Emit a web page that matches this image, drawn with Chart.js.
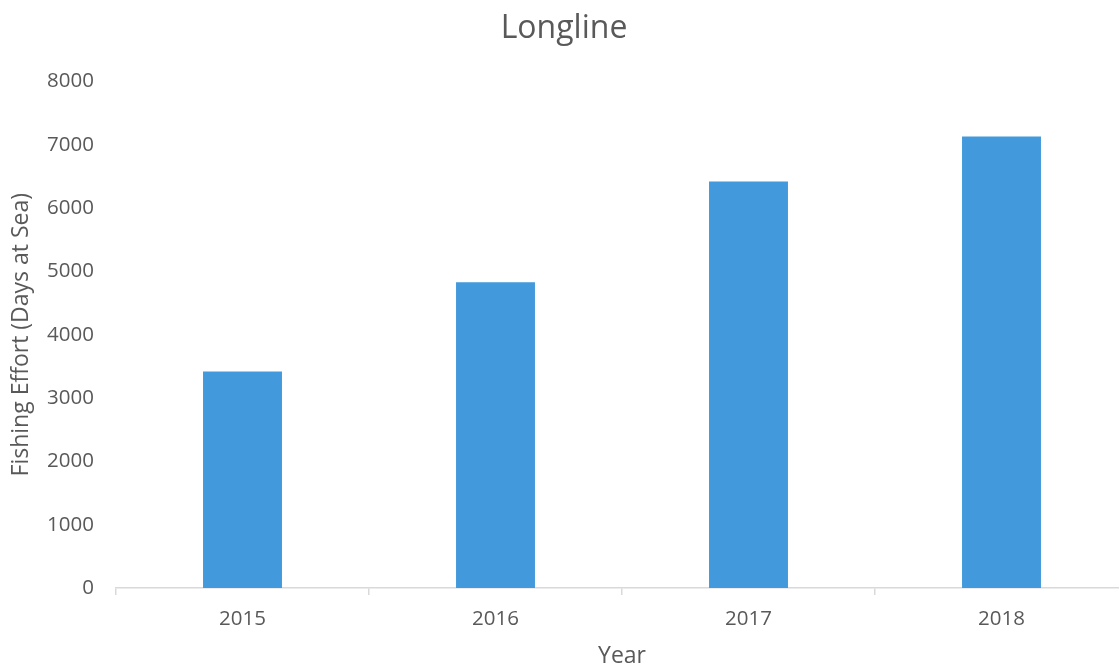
<!DOCTYPE html>
<html>
<head>
<meta charset="utf-8">
<script src="https://cdn.jsdelivr.net/npm/chart.js@4"></script>
<style>
  html, body { margin: 0; padding: 0; background: #fff; overflow: hidden; }
  #wrap { width: 1140px; height: 668px; position: relative; }
</style>
</head>
<body>
<div id="wrap"><canvas id="effortChart"></canvas></div>
<script>
const years = ["2015", "2016", "2017", "2018"];
const daysAtSea = [3420, 4830, 6420, 7130];

const textColor = "#595959";
const axisColor = "#d9d9d9";
const fontFamily = "'Open Sans', 'Liberation Sans', sans-serif";

new Chart(document.getElementById("effortChart"), {
    type: "bar",
    data: {
        labels: years,
        datasets: [{
            label: "Longline",
            data: daysAtSea,
            backgroundColor: "#4299db",
            categoryPercentage: 1,
            barPercentage: 0.312
        }]
    },
    options: {
        responsive: true,
        maintainAspectRatio: false,
        animation: false,
        layout: { padding: { left: 0, right: 12, top: 0, bottom: 0 } },
        plugins: {
            legend: { display: false },
            tooltip: { enabled: false },
            title: {
                display: true,
                text: "Longline",
                color: textColor,
                font: { family: fontFamily, size: 32, weight: "normal" },
                padding: { top: 10, bottom: 33 }
            }
        },
        scales: {
            x: {
                grid: {
                    display: true,
                    drawOnChartArea: false,
                    offset: true,
                    tickLength: 7,
                    color: axisColor,
                    lineWidth: 1.5
                },
                border: { display: true, color: axisColor, width: 1.5 },
                ticks: {
                    color: textColor,
                    font: { family: fontFamily, size: 20.5 },
                    padding: 12
                },
                title: {
                    display: true,
                    text: "Year",
                    color: textColor,
                    font: { family: fontFamily, size: 23, lineHeight: 1 },
                    padding: { top: 6, bottom: 0 }
                },
                afterFit: function (scale) { scale.height = 80; }
            },
            y: {
                min: 0,
                max: 8000,
                grid: { display: false },
                border: { display: false },
                ticks: {
                    stepSize: 1000,
                    color: textColor,
                    font: { family: fontFamily, size: 20.5 },
                    padding: 14,
                    callback: function (value) { return String(value); }
                },
                title: {
                    display: true,
                    text: "Fishing Effort (Days at Sea)",
                    color: textColor,
                    font: { family: fontFamily, size: 23 },
                    padding: { top: 8, bottom: 0 }
                },
                afterFit: function (scale) { scale.width = 116; }
            }
        }
    }
});
</script>
</body>
</html>
